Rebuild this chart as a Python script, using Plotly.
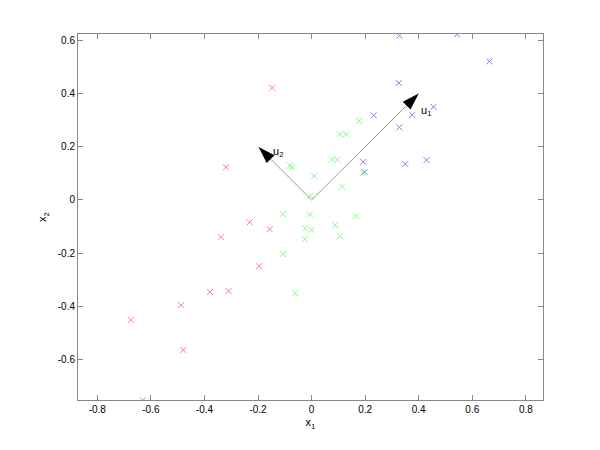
import plotly.graph_objects as go

red_x = [-0.147, -0.320, -0.231, -0.156, -0.338, -0.196, -0.379, -0.310, -0.487, -0.675, -0.479, -0.630]
red_y = [0.422, 0.123, -0.084, -0.110, -0.140, -0.249, -0.346, -0.342, -0.395, -0.451, -0.564, -0.753]

green_x = [-0.081, -0.072, 0.009, -0.005, -0.108, -0.006, -0.024, 0.000, -0.025, -0.106, -0.061,
           0.167, 0.088, 0.105, 0.178, 0.106, 0.129, 0.077, 0.096, 0.114, 0.193]
green_y = [0.129, 0.123, 0.090, 0.016, -0.053, -0.055, -0.107, -0.113, -0.148, -0.203, -0.351,
           -0.061, -0.095, -0.137, 0.297, 0.247, 0.247, 0.152, 0.152, 0.051, 0.101]

blue_x = [0.328, 0.543, 0.664, 0.326, 0.455, 0.376, 0.232, 0.328, 0.193, 0.198, 0.350, 0.429]
blue_y = [0.618, 0.623, 0.521, 0.440, 0.350, 0.320, 0.318, 0.273, 0.143, 0.105, 0.135, 0.150]

u1 = [0.40, 0.40]
u2 = [-0.198, 0.199]

tick_vals_x = [-0.8, -0.6, -0.4, -0.2, 0, 0.2, 0.4, 0.6, 0.8]
tick_text_x = ["-0.8", "-0.6", "-0.4", "-0.2", "0", "0.2", "0.4", "0.6", "0.8"]
tick_vals_y = [-0.6, -0.4, -0.2, 0, 0.2, 0.4, 0.6]
tick_text_y = ["-0.6", "-0.4", "-0.2", "0", "0.2", "0.4", "0.6"]

FONT = "Liberation Sans, Arial, Helvetica"

fig = go.Figure()

def add_pts(xs, ys, color):
    fig.add_trace(go.Scatter(
        x=xs, y=ys, mode="markers",
        marker=dict(symbol="x-thin", size=6, line=dict(width=1, color=color), color=color),
        showlegend=False, hoverinfo="skip"))

add_pts(red_x, red_y, "#ff7f7f")
add_pts(green_x, green_y, "#7fff7f")
add_pts(blue_x, blue_y, "#7f7fff")

for u, ang in ((u1, 45), (u2, -45)):
    fig.add_trace(go.Scatter(x=[0, u[0]], y=[0, u[1]], mode="lines",
                             line=dict(color="#999999", width=1),
                             showlegend=False, hoverinfo="skip"))
    fig.add_trace(go.Scatter(x=[u[0]], y=[u[1]], mode="markers",
                             marker=dict(symbol="arrow", size=18, angle=ang, color="black",
                                         line=dict(width=0)),
                             showlegend=False, hoverinfo="skip"))

fig.add_annotation(x=0.40, y=0.335, text="u<sub>1</sub>", showarrow=False,
                   xanchor="left", yanchor="middle",
                   font=dict(family=FONT, size=11, color="black"))
fig.add_annotation(x=-0.152, y=0.18, text="u<sub>2</sub>", showarrow=False,
                   xanchor="left", yanchor="middle",
                   font=dict(family=FONT, size=11, color="black"))

axis_common = dict(showgrid=False, zeroline=False, showline=True, linecolor="#888888",
                   linewidth=1, mirror="ticks", ticks="inside", ticklen=5,
                   tickcolor="#888888",
                   tickfont=dict(family=FONT, size=10, color="black"))

fig.update_xaxes(range=[-0.872, 0.864], tickvals=tick_vals_x, ticktext=tick_text_x,
                 title=dict(text="x<sub>1</sub>", standoff=4,
                            font=dict(family=FONT, size=11, color="black")),
                 **axis_common)
fig.update_yaxes(range=[-0.752, 0.624], tickvals=tick_vals_y, ticktext=tick_text_y,
                 title=dict(text="x<sub>2</sub>", standoff=8,
                            font=dict(family=FONT, size=11, color="black")),
                 **axis_common)

fig.update_layout(width=600, height=450, margin=dict(l=70, r=65, t=26, b=58),
                  plot_bgcolor="white", paper_bgcolor="white")

fig.write_html("out.html")
